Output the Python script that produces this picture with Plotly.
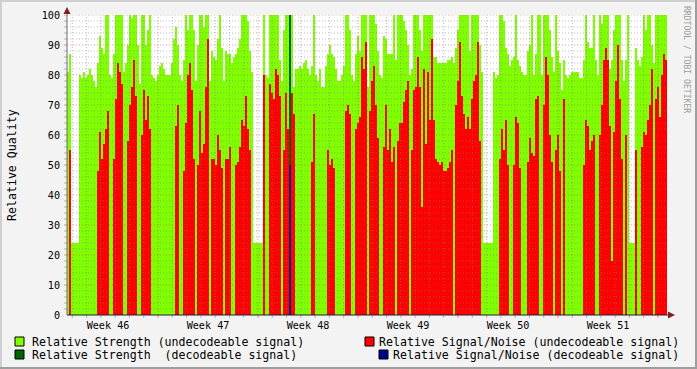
import plotly.graph_objects as go

# ---------------- data ----------------
WEEKS = [46, 47, 48, 49, 50, 51]
HOURS_PER_SAMPLE = 3.36          # one consolidated sample
FIRST_SAMPLE_HOUR = 15.12        # hours after the start of week 46
SPAN_HOURS = 6 * 168

STRENGTH_UNDECODEABLE = [
    81, 87, 24, 24, 24, 24, 80, 79, 81, 79, 80, 82, 80, 78, 76, 84, 93, 89, 87, 100,
    100, 80, 79, 87, 100, 100, 100, 100, 81, 84, 90, 100, 99, 100, 100, 90, 77, 100, 100, 90,
    95, 100, 80, 79, 78, 80, 83, 84, 82, 80,
    80, 80, 84, 92, 96, 90, 80, 78, 85, 100, 95, 100, 100, 95, 78, 90, 100, 100, 96, 100,
    100, 78, 88, 86, 85, 92, 100, 89, 78, 88, 87, 87, 84, 86, 87, 89, 92, 100, 100, 100,
    98, 88, 81, 24, 24, 24, 24, 24, 100, 80,
    79, 100, 100, 100, 100, 100, 85, 78, 95, 100, 100, 0, 100, 76, 82, 82, 83, 82, 84, 85,
    82, 80, 83, 100, 80, 78, 82, 76, 76, 83, 87, 90, 87, 86, 82, 78, 78, 80, 83, 100,
    100, 95, 80, 78, 87, 93, 88, 100, 100, 100,
    76, 100, 100, 100, 97, 88, 80, 79, 93, 92, 87, 87, 87, 100, 85, 100, 100, 100, 98, 95,
    90, 80, 82, 100, 100, 100, 95, 88, 100, 100, 100, 100, 100, 86, 86, 84, 84, 84, 84, 84,
    85, 85, 86, 84, 89, 95, 100, 100, 100, 100,
    100, 88, 100, 100, 100, 100, 90, 81, 24, 24, 24, 24, 24, 81, 79, 80, 100, 100, 98, 89,
    87, 83, 85, 86, 100, 85, 83, 81, 80, 80, 88, 90, 100, 80, 87, 100, 100, 80, 100, 100,
    100, 95, 86, 81, 100, 88, 84, 75, 85, 80,
    79, 80, 81, 81, 81, 81, 79, 79, 85, 100, 91, 89, 89, 100, 85, 80, 100, 97, 100, 100,
    100, 82, 85, 95, 100, 100, 100, 85, 78, 85, 100, 24, 24, 24, 89, 85, 83, 86, 100, 95,
    100, 100, 90, 84, 100, 100, 100, 100, 100, 100,
]

SNR_UNDECODEABLE = [
    0, 55, 0, 0, 0, 0, 0, 0, 0, 0, 0, 0, 0, 0, 0, 48, 61, 52, 57, 62,
    68, 0, 0, 52, 72, 84, 81, 77, 0, 0, 58, 70, 76, 85, 73, 0, 0, 60, 75, 65,
    73, 62, 0, 0, 0, 0, 0, 0, 0, 0,
    0, 0, 0, 0, 63, 70, 0, 0, 48, 64, 80, 84, 75, 52, 0, 50, 68, 54, 57, 76,
    92, 0, 52, 52, 50, 60, 55, 49, 0, 52, 52, 56, 0, 0, 50, 51, 56, 65, 63, 73,
    62, 55, 0, 0, 0, 0, 0, 0, 80, 0,
    0, 77, 74, 72, 82, 80, 73, 0, 55, 74, 62, 0, 74, 67, 0, 0, 0, 0, 0, 0,
    0, 0, 51, 67, 0, 0, 0, 0, 0, 0, 55, 50, 52, 49, 0, 0, 0, 0, 0, 68,
    70, 67, 0, 0, 62, 64, 66, 86, 82, 91,
    0, 68, 78, 83, 70, 59, 0, 0, 56, 70, 55, 62, 51, 56, 0, 58, 64, 64, 71, 75,
    78, 0, 55, 75, 76, 86, 76, 36, 82, 57, 81, 65, 92, 65, 52, 51, 50, 51, 48, 48,
    49, 51, 55, 0, 70, 78, 91, 73, 67, 62,
    66, 62, 72, 78, 80, 91, 58, 0, 0, 0, 0, 0, 0, 0, 0, 0, 52, 62, 55, 65,
    50, 0, 0, 50, 66, 64, 49, 0, 0, 0, 51, 59, 54, 53, 72, 73, 0, 0, 70, 86,
    80, 60, 51, 0, 55, 60, 48, 0, 72, 0,
    0, 0, 0, 0, 0, 0, 0, 0, 50, 65, 63, 55, 58, 60, 0, 0, 60, 70, 85, 89,
    85, 63, 18, 61, 78, 90, 72, 52, 0, 60, 0, 0, 0, 0, 55, 0, 0, 56, 61, 60,
    65, 70, 82, 0, 72, 76, 66, 80, 87, 85,
]

DECODEABLE_SAMPLES = [111]
STRENGTH_DECODEABLE = [100]
SNR_DECODEABLE = [50]

LEGEND = [
    "Relative Strength (undecodeable signal)",
    "Relative Strength\u00a0\u00a0(decodeable signal)",
    "Relative Signal/Noise (undecodeable signal)",
    "Relative Signal/Noise (decodeable signal)",
]
COLORS = ["#7FFF00", "#006400", "#FF0000", "#00008C"]

# ---------------- geometry ----------------
W, H = 697, 369
L, T, PW, PH = 67, 15, 600, 300
FONT = "DejaVu Sans Mono"


def px(xp):
    return (xp - L) / PW


def py(yp):
    return (T + PH - yp) / PH


def step_area(values, color):
    """rrdtool-style AREA: one step polygon, sample i holds from its start to the next."""
    n = len(values)
    xs = [FIRST_SAMPLE_HOUR + i * HOURS_PER_SAMPLE for i in range(n + 1)]
    ys = list(values) + [values[-1]]
    return go.Scatter(x=xs, y=ys, mode="lines", line=dict(shape="hv", width=0, color=color),
                      fill="tozeroy", fillcolor=color, hoverinfo="skip", showlegend=False)


def sample_bars(idx, values, color):
    xs = [FIRST_SAMPLE_HOUR + (i + 0.5) * HOURS_PER_SAMPLE for i in idx]
    return go.Bar(x=xs, y=values, width=HOURS_PER_SAMPLE,
                  marker=dict(color=color, line=dict(width=0)),
                  hoverinfo="skip", showlegend=False)


fig = go.Figure()
fig.add_trace(step_area(STRENGTH_UNDECODEABLE, COLORS[0]))
fig.add_trace(sample_bars(DECODEABLE_SAMPLES, STRENGTH_DECODEABLE, COLORS[1]))
fig.add_trace(step_area(SNR_UNDECODEABLE, COLORS[2]))
fig.add_trace(sample_bars(DECODEABLE_SAMPLES, SNR_DECODEABLE, COLORS[3]))

shapes = []
MINOR = "rgba(130,130,130,0.55)"
MAJOR = "rgba(222,48,48,0.5)"
DASH = "1px,2px"

# horizontal grid
for v in range(2, 101, 2):
    col = MAJOR if v % 10 == 0 else MINOR
    shapes.append(dict(type="line", xref="paper", yref="y", x0=0, x1=1, y0=v, y1=v,
                       line=dict(color=col, width=1, dash=DASH), layer="above"))
    shapes.append(dict(type="line", xref="paper", yref="y", x0=px(64), x1=px(67), y0=v, y1=v,
                       line=dict(color=col, width=1), layer="above"))
# vertical grid (daily, weekly major)
x_lo, x_hi = FIRST_SAMPLE_HOUR, FIRST_SAMPLE_HOUR + SPAN_HOURS
h = 24
while h < x_hi:
    if h > x_lo:
        col = MAJOR if h % 168 == 0 else MINOR
        shapes.append(dict(type="line", xref="x", yref="paper", x0=h, x1=h, y0=0, y1=1,
                           line=dict(color=col, width=1, dash=DASH), layer="above"))
        shapes.append(dict(type="line", xref="x", yref="paper", x0=h, x1=h, y0=py(315), y1=py(318),
                           line=dict(color=col, width=1), layer="above"))
    h += 24

# axes + arrows
shapes.append(dict(type="line", xref="paper", yref="paper", x0=px(67), x1=px(670), y0=0, y1=0,
                   line=dict(color="#1F1F3F", width=1), layer="above"))
shapes.append(dict(type="line", xref="paper", yref="paper", x0=0, x1=0, y0=0, y1=py(10),
                   line=dict(color="#6F6F6F", width=1), layer="above"))
shapes.append(dict(type="path", xref="paper", yref="paper",
                   path=f"M {px(668)} {py(311.5)} L {px(675)} {py(315)} L {px(668)} {py(318.5)} Z",
                   fillcolor="#7F1F1F", line=dict(width=0), layer="above"))
shapes.append(dict(type="path", xref="paper", yref="paper",
                   path=f"M {px(63.5)} {py(14)} L {px(67)} {py(7)} L {px(70.5)} {py(14)} Z",
                   fillcolor="#7F1F1F", line=dict(width=0), layer="above"))

# frame shading
for x0, x1, y0, y1, c in [(0, W, 0, 2, "#CFCFCF"), (0, 2, 0, H, "#CFCFCF"),
                          (0, W, H - 2, H, "#9E9E9E"), (W - 2, W, 0, H, "#9E9E9E")]:
    shapes.append(dict(type="rect", xref="paper", yref="paper", x0=px(x0), x1=px(x1),
                       y0=py(y1), y1=py(y0), fillcolor=c, line=dict(width=0), layer="above"))

# legend
annotations = []
legend_boxes = [(15, 337), (15, 350), (365, 337), (379, 350)]
for k, (bx, by) in enumerate(legend_boxes):
    shapes.append(dict(type="rect", xref="paper", yref="paper", x0=px(bx), x1=px(bx + 9),
                       y0=py(by + 9), y1=py(by), fillcolor=COLORS[k],
                       line=dict(color="#000000", width=1), layer="above"))
    if k < 2:
        annotations.append(dict(xref="paper", yref="paper", x=px(30), y=py(by + 4.5),
                                text=LEGEND[k], showarrow=False, xanchor="left", yanchor="middle",
                                font=dict(family=FONT, size=11.6, color="#000")))
    else:
        annotations.append(dict(xref="paper", yref="paper", x=px(681), y=py(by + 4.5),
                                text=LEGEND[k], showarrow=False, xanchor="right", yanchor="middle",
                                font=dict(family=FONT, size=11.6, color="#000")))

annotations.append(dict(xref="paper", yref="paper", x=px(12), y=py(165), text="Relative Quality",
                        textangle=-90, showarrow=False, xanchor="center", yanchor="middle",
                        font=dict(family=FONT, size=11.6, color="#000")))
annotations.append(dict(xref="paper", yref="paper", x=px(687), y=py(59), text="RRDTOOL / TOBI OETIKER",
                        textangle=90, showarrow=False, xanchor="center", yanchor="middle",
                        font=dict(family=FONT, size=8.1, color="#9C9C9C")))

fig.update_layout(
    width=W, height=H,
    margin=dict(l=L, r=W - L - PW, t=T, b=H - T - PH, autoexpand=False),
    paper_bgcolor="#F3F3F3", plot_bgcolor="#FFFFFF",
    barmode="overlay", bargap=0,
    shapes=shapes, annotations=annotations,
    xaxis=dict(range=[x_lo, x_hi], showgrid=False, zeroline=False, showline=False,
               tickmode="array", tickvals=[84 + 168 * i for i in range(len(WEEKS))],
               ticktext=[f"Week {w}" for w in WEEKS], ticks="", ticklabelstandoff=3,
               tickfont=dict(family=FONT, size=10.15, color="#000")),
    yaxis=dict(range=[0, 100], showgrid=False, zeroline=False, showline=False,
               tickmode="array", tickvals=list(range(0, 101, 10)), ticks="",
               ticklabelstandoff=6,
               tickfont=dict(family=FONT, size=10.15, color="#000")),
)

fig.write_html("out.html", config={"displayModeBar": False},
               post_script="document.body.style.margin='0';document.body.style.padding='0';")
